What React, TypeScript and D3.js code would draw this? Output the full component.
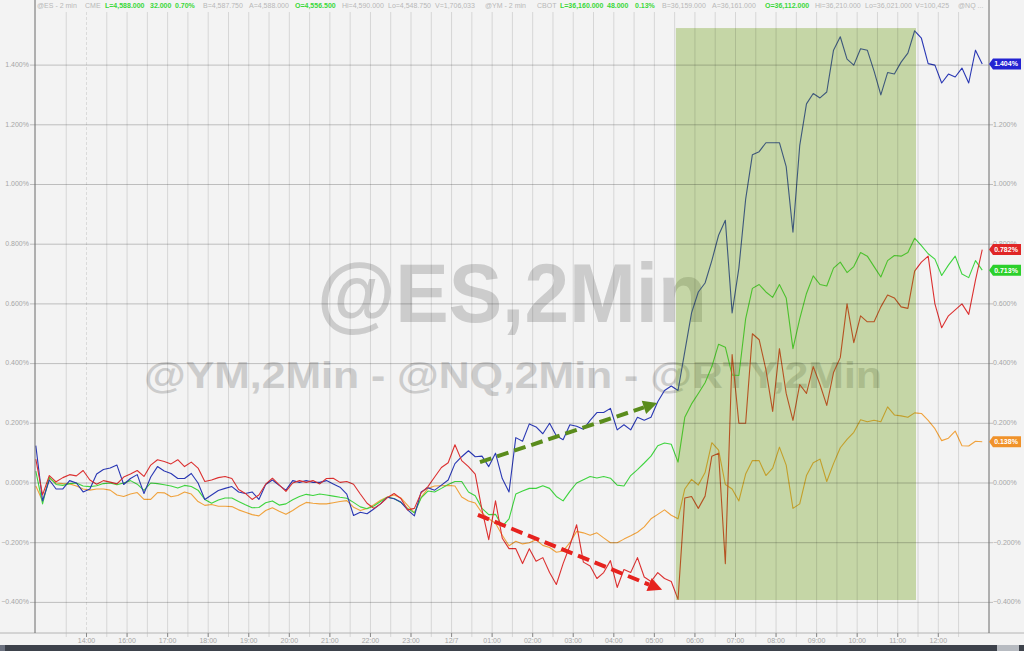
import React from 'react';
import * as d3 from 'd3';

const W = 1024;
const H = 651;

// time axis in chart-hours (bar slots), 10-minute samples
const timeStart = 13.75;
const stepHours = 1 / 6;

// % change series
const nqBlue = [0.125,-0.06,0.01,-0.02,-0.02,0.008,0.0,-0.03,-0.02,0.03,0.045,0.05,0.06,-0.005,0.015,0.028,-0.035,0.02,0.055,0.04,0.032,0.015,0.015,0.032,0.0,-0.055,-0.04,-0.025,-0.018,-0.012,-0.03,-0.035,-0.03,-0.055,-0.005,0.01,-0.008,-0.024,0.008,0.002,0.008,0.002,0.002,0.008,-0.003,-0.014,-0.037,-0.109,-0.098,-0.103,-0.087,-0.07,-0.048,-0.053,-0.064,-0.09,-0.11,-0.03,-0.016,-0.024,-0.007,0.01,0.065,0.088,0.108,0.088,0.09,0.055,0.1,0.015,-0.03,0.152,0.14,0.198,0.188,0.165,0.2,0.158,0.145,0.195,0.19,0.18,0.21,0.236,0.236,0.25,0.178,0.195,0.178,0.22,0.21,0.22,0.272,0.31,0.325,0.31,0.44,0.57,0.64,0.67,0.745,0.83,0.88,0.57,0.72,0.95,1.1,1.11,1.14,1.14,1.14,1.06,0.84,1.13,1.27,1.305,1.29,1.31,1.45,1.495,1.42,1.4,1.455,1.45,1.38,1.3,1.375,1.37,1.41,1.44,1.515,1.49,1.405,1.4,1.34,1.37,1.36,1.39,1.34,1.45,1.404];

const rtyRed = [0.08,-0.04,0.025,0.004,0.018,0.028,0.024,0.042,0.01,-0.004,0.008,0.003,-0.003,0.02,0.03,0.042,0.022,0.06,0.078,0.072,0.064,0.078,0.055,0.07,0.05,0.005,0.01,0.018,0.022,0.015,-0.022,-0.035,-0.055,-0.04,-0.004,0.016,-0.006,-0.028,0.0,0.008,0.002,0.008,-0.003,0.015,0.016,0.002,0.005,-0.004,-0.037,-0.068,-0.085,-0.07,-0.049,-0.035,-0.052,-0.09,-0.085,-0.033,-0.012,0.02,0.052,0.068,0.128,0.075,0.055,0.03,-0.09,-0.19,-0.06,-0.185,-0.22,-0.22,-0.27,-0.22,-0.262,-0.25,-0.3,-0.34,-0.27,-0.21,-0.14,-0.265,-0.278,-0.32,-0.3,-0.26,-0.35,-0.29,-0.3,-0.25,-0.315,-0.33,-0.3,-0.32,-0.33,-0.39,-0.05,-0.045,-0.085,-0.044,0.09,0.1,-0.27,0.43,0.2,0.2,0.5,0.48,0.38,0.24,0.45,0.3,0.21,0.33,0.3,0.39,0.33,0.26,0.37,0.42,0.6,0.47,0.56,0.54,0.54,0.59,0.63,0.62,0.59,0.585,0.71,0.74,0.76,0.6,0.52,0.56,0.58,0.6,0.565,0.68,0.782];

const ymGreen = [0.04,-0.07,0.02,-0.005,-0.008,-0.002,0.0,-0.01,-0.012,-0.009,-0.002,0.0,-0.006,0.0,0.008,-0.004,-0.025,0.0,-0.002,-0.006,-0.01,-0.017,-0.008,-0.012,-0.024,-0.055,-0.068,-0.057,-0.05,-0.05,-0.062,-0.073,-0.083,-0.082,-0.066,-0.06,-0.074,-0.07,-0.056,-0.045,-0.038,-0.042,-0.037,-0.04,-0.044,-0.048,-0.051,-0.065,-0.08,-0.086,-0.077,-0.062,-0.048,-0.052,-0.065,-0.085,-0.1,-0.05,-0.027,-0.03,-0.018,-0.005,0.005,0.005,-0.03,-0.043,-0.085,-0.106,-0.105,-0.145,-0.12,-0.037,-0.027,-0.018,-0.018,-0.009,-0.018,-0.045,-0.06,-0.028,0.0,0.011,0.022,0.017,0.022,0.016,-0.007,-0.01,0.025,0.045,0.067,0.09,0.125,0.134,0.13,0.07,0.22,0.265,0.3,0.336,0.39,0.465,0.455,0.362,0.36,0.55,0.652,0.665,0.64,0.622,0.665,0.62,0.45,0.55,0.635,0.694,0.665,0.66,0.72,0.74,0.705,0.725,0.772,0.76,0.725,0.69,0.745,0.762,0.76,0.772,0.82,0.795,0.768,0.75,0.695,0.73,0.76,0.7,0.688,0.745,0.713];

const esOrange = [-0.01,-0.06,0.015,0.0,-0.002,-0.003,-0.01,-0.02,-0.024,-0.02,-0.02,-0.024,-0.04,-0.045,-0.037,-0.032,-0.055,-0.055,-0.032,-0.033,-0.046,-0.042,-0.03,-0.037,-0.062,-0.075,-0.072,-0.078,-0.078,-0.079,-0.09,-0.098,-0.106,-0.11,-0.092,-0.083,-0.095,-0.105,-0.092,-0.077,-0.065,-0.068,-0.07,-0.07,-0.066,-0.062,-0.059,-0.081,-0.092,-0.085,-0.073,-0.058,-0.047,-0.04,-0.05,-0.075,-0.1,-0.048,-0.018,-0.01,-0.009,-0.008,-0.01,-0.047,-0.06,-0.067,-0.1,-0.12,-0.135,-0.175,-0.21,-0.195,-0.204,-0.2,-0.19,-0.209,-0.216,-0.232,-0.228,-0.2,-0.162,-0.167,-0.175,-0.167,-0.184,-0.2,-0.2,-0.188,-0.177,-0.165,-0.147,-0.12,-0.105,-0.09,-0.108,-0.12,-0.02,0.012,-0.007,0.035,0.135,0.11,-0.005,-0.02,-0.06,0.03,0.075,0.075,0.025,0.05,0.12,0.06,-0.085,-0.07,0.025,0.068,0.08,0.005,0.065,0.118,0.146,0.17,0.212,0.205,0.21,0.205,0.255,0.228,0.225,0.22,0.235,0.233,0.21,0.182,0.142,0.15,0.174,0.125,0.124,0.14,0.138];

const seriesNames = ['@ES', '@YM', '@RTY', '@NQ'];
const seriesColors = ['#f0a23c', '#3fd43f', '#dc3030', '#2a38b4'];
const labelColors = ['#f0922a', '#2bd02b', '#e02626', '#2323d2'];

const yTicks = [-0.4, -0.2, 0, 0.2, 0.4, 0.6, 0.8, 1.0, 1.2, 1.4];
const xTickPos = [15, 16, 17, 18, 19, 20, 21, 22, 23, 24, 25, 26, 27, 28, 29, 30, 31, 32, 33, 34, 35, 36];
const xTickLabels = ['14:00', '16:00', '17:00', '18:00', '19:00', '20:00', '21:00', '22:00', '23:00', '12/7', '01:00', '02:00', '03:00', '04:00', '05:00', '06:00', '07:00', '08:00', '09:00', '10:00', '11:00', '12:00'];
const sessionBreak = 15;

// highlighted window (time range, value range)
const shadeTime = [29.53, 35.45];
const shadeValue = [-0.392, 1.524];

// annotation arrows [t0, v0, t1, v1]
const greenArrow = [24.7, 0.07, 29.07, 0.268];
const redArrow = [24.65, -0.107, 29.19, -0.358];

const headerItems: { t: string; x: number; g?: boolean }[] = [
  { t: '@ES - 2 min', x: 37 }, { t: 'CME', x: 85 }, { t: 'L=4,588.000', x: 105, g: true }, { t: '32.000', x: 150, g: true },
  { t: '0.70%', x: 175, g: true }, { t: 'B=4,587.750', x: 203 }, { t: 'A=4,588.000', x: 249 }, { t: 'O=4,556.500', x: 295, g: true },
  { t: 'Hi=4,590.000', x: 342 }, { t: 'Lo=4,548.750', x: 388 }, { t: 'V=1,706,033', x: 435 }, { t: '@YM - 2 min', x: 485 },
  { t: 'CBOT', x: 537 }, { t: 'L=36,160.000', x: 560, g: true }, { t: '48.000', x: 607, g: true }, { t: '0.13%', x: 635, g: true },
  { t: 'B=36,159.000', x: 662 }, { t: 'A=36,161.000', x: 712 }, { t: 'O=36,112.000', x: 765, g: true }, { t: 'Hi=36,210.000', x: 815 },
  { t: 'Lo=36,021.000', x: 865 }, { t: 'V=100,425', x: 915 }, { t: '@NQ ...', x: 958 },
];

const FONT = '"Liberation Sans", Arial, sans-serif';

export default function App() {
  const left = 35;
  const right = 989;
  const axisY = 633;
  const x = d3.scaleLinear().domain([13.73, 37.25]).range([left, right]);
  const y = d3.scaleLinear().domain([-0.5, 1.6]).range([632.25, 5.4]);

  const allSeries = [esOrange, ymGreen, rtyRed, nqBlue];
  const line = d3.line<number>().x((_, i) => x(timeStart + i * stepHours)).y((d) => y(d));

  const grid30 = d3.range(14.5, 36.51, 0.5);
  const fmt = (v: number) => d3.format('.3f')(v) + '%';

  const arrow = (a: number[], color: string, key: string) => {
    const x0 = x(a[0]), y0 = y(a[1]), x1 = x(a[2]), y1 = y(a[3]);
    const ang = Math.atan2(y1 - y0, x1 - x0);
    const hl = 14, hw = 7;
    const bx = x1 - hl * Math.cos(ang), by = y1 - hl * Math.sin(ang);
    const px = -Math.sin(ang) * hw, py = Math.cos(ang) * hw;
    return (
      <g key={key}>
        <line x1={x0} y1={y0} x2={bx} y2={by} stroke={color} strokeWidth={4} strokeDasharray="12,6" />
        <polygon points={`${x1},${y1} ${bx + px},${by + py} ${bx - px},${by - py}`} fill={color} />
      </g>
    );
  };

  // draw order: orange, green, blue, red
  const drawOrder = [0, 1, 3, 2];
  const lastVals = allSeries.map((s) => s[s.length - 1]);

  return (
    <svg width={W} height={H} style={{ position: 'absolute', left: 0, top: 0, fontFamily: FONT }}>
      <rect x={0} y={0} width={W} height={H} fill="#f3f3f3" />

      {/* watermarks */}
      <text x={317} y={322} fontSize={84} fontWeight="bold" fill="#cccccc" textLength={390} lengthAdjust="spacingAndGlyphs">@ES,2Min</text>
      <text x={144} y={388} fontSize={36} fontWeight="bold" fill="#cccccc" textLength={738} lengthAdjust="spacingAndGlyphs">@YM,2Min - @NQ,2Min - @RTY,2Min</text>

      {/* data lines */}
      {drawOrder.map((k) => (
        <path key={seriesNames[k]} d={line(allSeries[k]) || ''} fill="none" stroke={seriesColors[k]} strokeWidth={1.1} strokeLinejoin="round" />
      ))}

      {/* highlighted window */}
      <rect x={x(shadeTime[0])} y={y(shadeValue[1])} width={x(shadeTime[1]) - x(shadeTime[0])} height={y(shadeValue[0]) - y(shadeValue[1])} fill="rgb(104,155,10)" fillOpacity={0.33} />

      {/* grid */}
      {grid30.map((t) => (
        <line key={'vg' + t} x1={x(t)} x2={x(t)} y1={12} y2={637} stroke={t === sessionBreak ? 'rgba(0,0,0,0.10)' : 'rgba(0,0,0,0.12)'} strokeDasharray={t === sessionBreak ? '3,2' : undefined} strokeWidth={1} />
      ))}
      {yTicks.map((v) => (
        <line key={'hg' + v} x1={left - 5} x2={right + 4} y1={y(v)} y2={y(v)} stroke="rgba(0,0,0,0.22)" strokeWidth={1} />
      ))}

      {/* axes */}
      <line x1={0} x2={W} y1={axisY} y2={axisY} stroke="#b4b4b4" strokeWidth={1} />
      <line x1={left} x2={left} y1={0} y2={axisY} stroke="#6a6a6a" strokeWidth={1} />
      <line x1={right} x2={right} y1={0} y2={axisY} stroke="#6a6a6a" strokeWidth={1} />
      {xTickPos.map((t) => (
        <line key={'xt' + t} x1={x(t)} x2={x(t)} y1={axisY} y2={axisY + 4} stroke="#8a8a8a" strokeWidth={1} />
      ))}

      {/* y labels */}
      {yTicks.map((v) => (
        <g key={'yl' + v}>
          <text x={29} y={y(v)} fontSize={7} fill="#a6a6a6" textAnchor="end" dominantBaseline="middle">{fmt(v)}</text>
          <text x={993} y={y(v)} fontSize={7} fill="#a6a6a6" textAnchor="start" dominantBaseline="middle">{fmt(v)}</text>
        </g>
      ))}

      {/* x labels */}
      {xTickPos.map((t, i) => (
        <text key={'xl' + t} x={x(t)} y={643} fontSize={7} fill="#a6a6a6" textAnchor="middle">{xTickLabels[i]}</text>
      ))}

      {/* arrows */}
      {arrow(greenArrow, '#5a8c1c', 'ga')}
      {arrow(redArrow, '#e6221e', 'ra')}

      {/* last value labels */}
      {lastVals.map((v, k) => {
        const yy = y(v);
        return (
          <g key={'lv' + k}>
            <path d={`M${right},${yy} L${right + 4},${yy - 5.5} L1021,${yy - 5.5} L1021,${yy + 5.5} L${right + 4},${yy + 5.5} Z`} fill={labelColors[k]} />
            <text x={1006} y={yy + 0.5} fontSize={7} fontWeight="bold" fill="#ffffff" textAnchor="middle" dominantBaseline="middle">{fmt(v)}</text>
          </g>
        );
      })}

      {/* header */}
      {headerItems.map((h, i) => (
        <text key={'h' + i} x={h.x} y={8} fontSize={7} fill={h.g ? '#3ad83a' : '#b8b8b8'} fontWeight={h.g ? 'bold' : 'normal'}>{h.t}</text>
      ))}

      {/* bottom bar */}
      <rect x={0} y={645} width={W} height={6} fill="#3d424b" />
      <rect x={0} y={645} width={5} height={6} fill="#6c7280" />
      <rect x={997} y={645} width={22} height={6} fill="#b7bbc1" />
    </svg>
  );
}
